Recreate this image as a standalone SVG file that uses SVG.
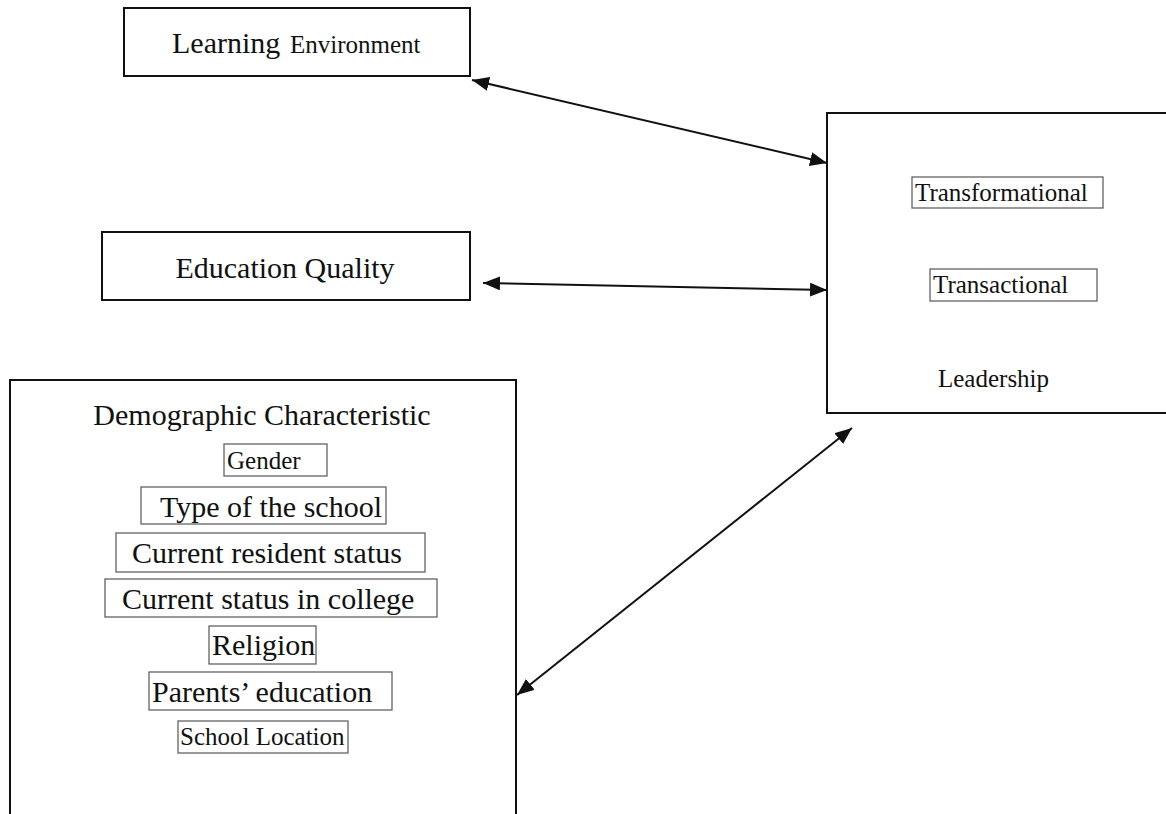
<svg xmlns="http://www.w3.org/2000/svg" width="1166" height="814" viewBox="0 0 1166 814">
<style>
  .main { fill: #fff; stroke: #111; stroke-width: 2; }
  .sub { fill: none; stroke: #555; stroke-width: 1.2; }
  text { font-family: "Liberation Serif", "Times New Roman", serif; fill: #111; }
  .big { font-size: 30px; }
  .mid { font-size: 25px; }
  .conn { stroke: #111; stroke-width: 2; fill: none; marker-start: url(#ah); marker-end: url(#ah); }
</style>
<defs>
  <marker id="ah" markerUnits="userSpaceOnUse" markerWidth="18" markerHeight="14" refX="17" refY="7" orient="auto-start-reverse">
    <path d="M0,0 L17,7 L0,14 Z" fill="#111"/>
  </marker>
</defs>
<rect width="1166" height="814" fill="#fff"/>
<g id="learning-environment">
  <rect class="main" x="124" y="8" width="346" height="68"/>
  <text x="172" y="53"><tspan class="big">Learning</tspan><tspan class="mid" x="290">Environment</tspan></text>
</g>
<g id="education-quality">
  <rect class="main" x="102" y="232" width="368" height="68"/>
  <text class="big" x="285" y="278" text-anchor="middle">Education Quality</text>
</g>
<g id="leadership">
  <rect class="main" x="827" y="113" width="345" height="300"/>
  <rect class="sub" x="912" y="177" width="191" height="31"/>
  <text class="mid" x="915" y="201">Transformational</text>
  <rect class="sub" x="930" y="269" width="167" height="32"/>
  <text class="mid" x="933" y="293">Transactional</text>
  <text class="mid" x="938" y="387">Leadership</text>
</g>
<g id="demographic">
  <rect class="main" x="10" y="380" width="506" height="440"/>
  <text class="big" x="262" y="425" text-anchor="middle">Demographic Characteristic</text>
  <rect class="sub" x="224" y="444" width="103" height="32"/>
  <text class="mid" x="227" y="469">Gender</text>
  <rect class="sub" x="141" y="487" width="245" height="37"/>
  <text class="big" x="160" y="517">Type of the school</text>
  <rect class="sub" x="116" y="533" width="309" height="39"/>
  <text class="big" x="132" y="563">Current resident status</text>
  <rect class="sub" x="105" y="579" width="332" height="38"/>
  <text class="big" x="122" y="609">Current status in college</text>
  <rect class="sub" x="209" y="626" width="107" height="38"/>
  <text class="big" x="212" y="655">Religion</text>
  <rect class="sub" x="149" y="672" width="243" height="38"/>
  <text class="big" x="152" y="702">Parents’ education</text>
  <rect class="sub" x="178" y="721" width="170" height="32"/>
  <text class="mid" x="180" y="745">School Location</text>
</g>
<g id="connectors">
  <line class="conn" x1="472" y1="80" x2="827" y2="163"/>
  <line class="conn" x1="483" y1="283" x2="827" y2="290"/>
  <line class="conn" x1="517" y1="695" x2="852" y2="428"/>
</g>
</svg>
